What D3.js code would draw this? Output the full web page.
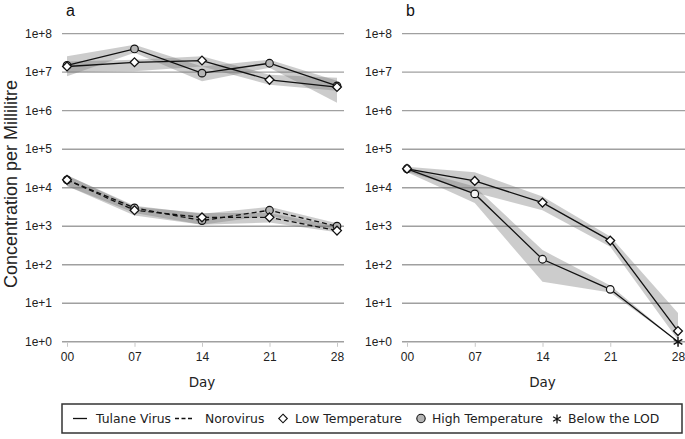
<!DOCTYPE html>
<html><head><meta charset="utf-8">
<script src="https://cdn.jsdelivr.net/npm/d3@7"></script>
<style>html,body{margin:0;padding:0;background:#fff}</style>
</head><body>
<svg id="c" width="685" height="439"></svg>
<script>
// ---- data ----
const days = [0, 7, 14, 21, 28];
const dayLabels = ["00", "07", "14", "21", "28"];
const yTicks = [1e0, 1e1, 1e2, 1e3, 1e4, 1e5, 1e6, 1e7, 1e8];
const yTickLabels = ["1e+0", "1e+1", "1e+2", "1e+3", "1e+4", "1e+5", "1e+6", "1e+7", "1e+8"];

// Panel a – Tulane virus (solid)
const tulaneLowA    = [1.4e7, 1.8e7, 2.0e7, 6.3e6, 4.1e6];
const tulaneLowA_lo = [1.0e7, 1.05e7, 1.4e7, 4.7e6, 3.3e6];
const tulaneLowA_hi = [1.9e7, 2.1e7, 2.6e7, 8.5e6, 7.1e6];
const tulaneHighA    = [1.5e7, 4.0e7, 9.4e6, 1.7e7, 4.4e6];
const tulaneHighA_lo = [7.8e6, 3.2e7, 5.8e6, 1.3e7, 1.6e6];
const tulaneHighA_hi = [2.6e7, 5.1e7, 1.4e7, 2.1e7, 6.0e6];
// Panel a – Norovirus (dashed)
const noroLowA    = [1.6e4, 2.6e3, 1.7e3, 1.7e3, 770];
const noroLowA_lo = [1.1e4, 1.9e3, 1.1e3, 1.25e3, 700];
const noroLowA_hi = [2.1e4, 3.2e3, 2.2e3, 2.2e3, 1.0e3];
const noroHighA    = [1.6e4, 3.0e3, 1.4e3, 2.6e3, 1.0e3];
const noroHighA_lo = [1.1e4, 2.2e3, 1.1e3, 1.9e3, 750];
const noroHighA_hi = [2.1e4, 3.4e3, 2.1e3, 3.2e3, 1.2e3];
// Panel b – Tulane virus (solid)
const lowB    = [3.1e4, 1.5e4, 4.1e3, 424, 1.9];
const lowB_lo = [2.6e4, 7.5e3, 2.6e3, 295, 1.12];
const lowB_hi = [3.5e4, 2.5e4, 5.9e3, 540, 5.6];
const highB    = [3.1e4, 6.9e3, 139, 23, 1];
const highB_lo = [2.5e4, 4.0e3, 36, 19, 1];
const highB_hi = [3.3e4, 1.07e4, 240, 29, 1];
const highB_belowLOD = [false, false, false, false, true];

const legendLabels = ["Tulane Virus", "Norovirus", "Low Temperature", "High Temperature", "Below the LOD"];

// ---- drawing ----
const svg = d3.select("#c");
const y = d3.scaleLog().domain([1, 1e8]).range([341.8, 33.6]);
const ribbonFill = "rgba(120,120,120,0.38)";

function asteriskPath(cx, cy, r) {
  let p = "";
  for (let i = 0; i < 3; i++) {
    const a = Math.PI / 2 + i * Math.PI / 3;
    const dx = r * Math.cos(a), dy = r * Math.sin(a);
    p += `M${cx - dx},${cy - dy}L${cx + dx},${cy + dy}`;
  }
  return p;
}
function diamondPath(cx, cy, r) {
  return `M${cx},${cy - r}L${cx + r},${cy}L${cx},${cy + r}L${cx - r},${cy}Z`;
}

function panel(opt) {
  const x = d3.scaleLinear().domain([0, 28]).range([opt.x0, opt.x1]);
  const g = svg.append("g");
  g.selectAll(".grid").data(yTicks).enter().append("line")
    .attr("x1", opt.gl).attr("x2", opt.gr)
    .attr("y1", d => y(d)).attr("y2", d => y(d))
    .attr("stroke", "#a0a0a0").attr("stroke-width", 1.4);
  g.selectAll(".yl").data(yTicks).enter().append("text")
    .attr("x", opt.gl - 10).attr("y", d => y(d)).attr("dy", "0.35em")
    .attr("text-anchor", "end").attr("font-family", "Liberation Sans, Arial, sans-serif")
    .attr("font-size", 12).attr("fill", "#222")
    .text((d, i) => yTickLabels[i]);
  const xAxis = d3.axisBottom(x).tickValues(days).tickSize(4).tickSizeOuter(0)
    .tickFormat((d, i) => dayLabels[i]);
  const ax = g.append("g").attr("transform", `translate(0,${y(1) + 1})`).call(xAxis);
  ax.select(".domain").remove();
  ax.selectAll(".tick line").attr("stroke", "#c8c8c8");
  ax.selectAll(".tick text").attr("font-family", "Liberation Sans, Arial, sans-serif")
    .attr("font-size", 12).attr("fill", "#222").attr("dy", "0.9em");
  g.append("text").attr("x", (opt.x0 + opt.x1) / 2).attr("y", 387)
    .attr("text-anchor", "middle").attr("font-family", "DejaVu Sans, Verdana, sans-serif")
    .attr("font-size", 13.5).attr("fill", "#222").text("Day");
  g.append("text").attr("x", opt.x0 - 1).attr("y", 16)
    .attr("font-family", "Liberation Sans, Arial, sans-serif")
    .attr("font-size", 16).attr("fill", "#111").text(opt.letter);

  const area = d3.area().x((d, i) => x(days[i])).y0(d => y(d[0])).y1(d => y(d[1]));
  const line = d3.line().x((d, i) => x(days[i])).y(d => y(d));
  opt.series.forEach(s => {
    g.append("path").datum(s.lo.map((v, i) => [v, s.hi[i]]))
      .attr("d", area).attr("fill", ribbonFill).attr("stroke", "none");
  });
  opt.series.forEach(s => {
    g.append("path").datum(s.v).attr("d", line).attr("fill", "none")
      .attr("stroke", "#111").attr("stroke-width", 1.3)
      .attr("stroke-dasharray", s.dash ? "5,3" : null);
  });
  opt.series.filter(s => s.shape === "circle").forEach(s => {
    s.v.forEach((v, i) => {
      if (s.lod && s.lod[i]) {
        g.append("path").attr("d", asteriskPath(x(days[i]), y(v), 5))
          .attr("stroke", "#111").attr("stroke-width", 1.4).attr("fill", "none");
      } else {
        g.append("circle").attr("cx", x(days[i])).attr("cy", y(v)).attr("r", 3.8)
          .attr("fill", s.fill).attr("stroke", "#111").attr("stroke-width", 1.2);
      }
    });
  });
  opt.series.filter(s => s.shape === "diamond").forEach(s => {
    s.v.forEach((v, i) => {
      g.append("path").attr("d", diamondPath(x(days[i]), y(v), 4.4))
        .attr("fill", "#fff").attr("stroke", "#111").attr("stroke-width", 1.3);
    });
  });
}

panel({
  letter: "a", x0: 67, x1: 337, gl: 62, gr: 344,
  series: [
    { v: tulaneHighA, lo: tulaneHighA_lo, hi: tulaneHighA_hi, shape: "circle", fill: "#b4b4b4" },
    { v: tulaneLowA, lo: tulaneLowA_lo, hi: tulaneLowA_hi, shape: "diamond" },
    { v: noroHighA, lo: noroHighA_lo, hi: noroHighA_hi, shape: "circle", fill: "#b4b4b4", dash: true },
    { v: noroLowA, lo: noroLowA_lo, hi: noroLowA_hi, shape: "diamond", dash: true }
  ]
});
panel({
  letter: "b", x0: 407, x1: 678, gl: 402, gr: 685,
  series: [
    { v: highB, lo: highB_lo, hi: highB_hi, shape: "circle", fill: "#f4f4f4", lod: highB_belowLOD },
    { v: lowB, lo: lowB_lo, hi: lowB_hi, shape: "diamond" }
  ]
});

svg.append("text").attr("transform", "translate(16.5,184) rotate(-90)")
  .attr("text-anchor", "middle").attr("font-family", "Liberation Sans, Arial, sans-serif")
  .attr("font-size", 18).attr("fill", "#222").text("Concentration per Millilitre");

// legend
const lg = svg.append("g");
lg.append("rect").attr("x", 62).attr("y", 404).attr("width", 620).attr("height", 29)
  .attr("fill", "#fff").attr("stroke", "#333").attr("stroke-width", 1.5);
const ly = 418.5;
const lf = { family: "DejaVu Sans, Verdana, sans-serif", size: 12.4 };
lg.append("line").attr("x1", 73).attr("x2", 87).attr("y1", ly).attr("y2", ly)
  .attr("stroke", "#111").attr("stroke-width", 1.3);
lg.append("line").attr("x1", 175).attr("x2", 192).attr("y1", ly).attr("y2", ly)
  .attr("stroke", "#111").attr("stroke-width", 1.3).attr("stroke-dasharray", "4,2.5");
lg.append("path").attr("d", diamondPath(283, ly, 4.3)).attr("fill", "#fff")
  .attr("stroke", "#111").attr("stroke-width", 1.1);
lg.append("circle").attr("cx", 421).attr("cy", ly).attr("r", 4.2).attr("fill", "#b4b4b4")
  .attr("stroke", "#111").attr("stroke-width", 1.1);
lg.append("path").attr("d", asteriskPath(557, ly + 0.5, 4.5)).attr("stroke", "#111")
  .attr("stroke-width", 1.3).attr("fill", "none");
const lx = [96, 205, 295, 432, 568];
legendLabels.forEach((t, i) => {
  lg.append("text").attr("x", lx[i]).attr("y", 423).attr("font-family", lf.family)
    .attr("font-size", lf.size).attr("fill", "#222").text(t);
});
</script>
</body></html>
